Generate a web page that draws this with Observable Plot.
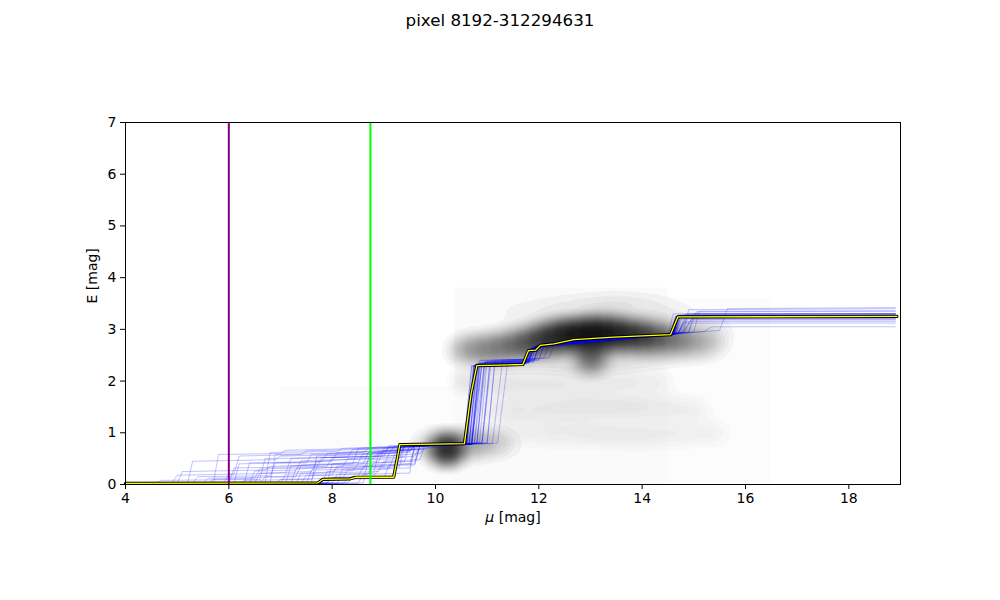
<!DOCTYPE html>
<html>
<head>
<meta charset="utf-8">
<script src="https://cdn.jsdelivr.net/npm/d3@7"></script>
<script src="https://cdn.jsdelivr.net/npm/@observablehq/plot@0.6"></script>
<style>
  body { margin: 0; background: white; font-family: "DejaVu Sans", sans-serif; }
  #title { height: 40px; line-height: 40px; text-align: center; font-size: 16.7px; color: black; width: 1000px; }
</style>
</head>
<body>
<div id="title">pixel 8192-312294631</div>
<div id="chart"></div>
<script>
// ---------- data ----------
const muTicks = [4, 6, 8, 10, 12, 14, 16, 18];
const eTicks = [0, 1, 2, 3, 4, 5, 6, 7];

// reference distances (vertical lines)
const refMu = [6, 8.74];
const refColors = ["#800080", "#00ff00"];

// best-fit reddening profile
const bestMu = [4, 7.72, 7.82, 8.35, 8.45, 9.19, 9.31, 10.0, 10.56, 10.69, 10.8, 11.69, 11.8, 11.94, 12.03, 12.29, 12.68, 13.45, 14.55, 14.69, 18.93];
const bestE  = [0.02, 0.03, 0.1, 0.11, 0.14, 0.14, 0.77, 0.78, 0.79, 1.76, 2.3, 2.32, 2.59, 2.6, 2.69, 2.72, 2.8, 2.85, 2.9, 3.24, 3.25];

// sampled profiles: flat [mu, E, mu, E, ...]
const samplePaths = [
  [4,0.02, 4.9,0.03, 5.0,0.18, 6.1,0.2, 6.2,0.55, 7.4,0.58, 7.5,0.65, 9.5,0.7, 9.6,0.76, 10.6,0.8, 10.8,2.35, 11.8,2.38, 11.9,2.65, 12.1,2.72, 14.6,2.9, 14.7,3.28, 18.9,3.3],
  [4,0.01, 5.7,0.02, 5.8,0.58, 7.0,0.6, 7.1,0.66, 9.4,0.72, 10.7,0.78, 10.85,2.4, 11.7,2.42, 11.8,2.6, 12.2,2.75, 14.7,2.92, 14.85,3.22, 18.9,3.22],
  [4,0.02, 6.5,0.03, 6.6,0.22, 7.6,0.25, 7.7,0.45, 8.7,0.5, 8.8,0.62, 9.5,0.66, 9.6,0.77, 10.9,0.8, 11.05,2.3, 11.9,2.36, 12.0,2.68, 14.5,2.88, 14.6,3.3, 18.9,3.3],
  [4,0.01, 7.2,0.02, 7.3,0.3, 8.2,0.34, 8.3,0.5, 9.0,0.55, 9.1,0.75, 10.55,0.79, 10.75,2.28, 11.7,2.33, 11.8,2.58, 12.0,2.68, 14.6,2.9, 14.7,3.25, 18.9,3.25],
  [4,0.02, 5.3,0.03, 5.4,0.15, 6.8,0.17, 6.9,0.42, 8.0,0.45, 8.1,0.62, 9.7,0.68, 9.8,0.78, 11.0,0.8, 11.15,2.4, 12.0,2.42, 12.1,2.7, 14.8,2.95, 14.95,3.2, 18.9,3.2],
  [4,0.02, 7.7,0.03, 7.8,0.12, 8.5,0.14, 8.6,0.35, 9.6,0.38, 9.7,0.76, 10.65,0.79, 10.8,2.3, 11.75,2.34, 11.85,2.62, 12.05,2.7, 14.55,2.9, 14.65,3.26, 18.9,3.26],
  [4,0.01, 6.0,0.02, 6.1,0.32, 7.9,0.35, 8.0,0.52, 9.2,0.56, 9.3,0.74, 10.7,0.78, 10.9,2.35, 11.85,2.38, 11.95,2.66, 14.7,2.93, 14.8,3.15, 18.9,3.15],
  [4,0.03, 4.6,0.03, 4.7,0.08, 6.6,0.1, 6.7,0.5, 8.3,0.53, 8.4,0.68, 9.4,0.72, 10.8,0.79, 10.95,2.38, 11.8,2.4, 11.9,2.64, 12.15,2.74, 15.0,2.95, 15.1,3.35, 18.9,3.36],
  [4,0.02, 7.0,0.02, 7.1,0.2, 8.9,0.25, 9.0,0.45, 9.7,0.48, 9.8,0.77, 10.6,0.8, 10.75,2.32, 11.7,2.35, 11.8,2.6, 12.0,2.7, 14.6,2.9, 14.7,3.24, 18.9,3.24],
  [4,0.02, 8.0,0.03, 8.1,0.2, 8.8,0.22, 8.9,0.6, 9.5,0.64, 9.6,0.75, 11.1,0.79, 11.3,2.4, 12.2,2.45, 12.3,2.72, 14.9,2.95, 15.0,3.3, 18.9,3.3],
  [4,0.01, 5.5,0.02, 5.6,0.12, 7.3,0.15, 7.4,0.38, 8.5,0.42, 8.6,0.6, 9.3,0.62, 9.4,0.74, 10.7,0.78, 10.85,2.33, 11.8,2.36, 11.9,2.62, 12.1,2.7, 14.65,2.9, 14.75,3.27, 18.9,3.27],
  [4,0.02, 6.3,0.03, 6.4,0.42, 7.8,0.44, 7.9,0.6, 9.6,0.68, 9.7,0.78, 10.55,0.8, 10.7,2.3, 11.7,2.32, 11.8,2.6, 12.0,2.69, 14.6,2.9, 14.7,3.25, 18.9,3.25],
  [4,0.02, 7.5,0.03, 7.6,0.28, 8.6,0.3, 8.7,0.48, 9.3,0.5, 9.4,0.76, 10.75,0.79, 10.95,2.36, 11.8,2.4, 11.9,2.63, 14.6,2.9, 14.75,3.2, 18.9,3.2],
  [4,0.01, 6.9,0.02, 7.0,0.1, 8.2,0.12, 8.3,0.28, 9.1,0.3, 9.2,0.56, 9.7,0.6, 9.8,0.76, 10.9,0.8, 11.05,2.34, 11.9,2.38, 12.0,2.68, 14.7,2.92, 14.85,3.3, 18.9,3.3],
  [4,0.02, 5.0,0.02, 5.1,0.25, 6.7,0.28, 6.8,0.35, 8.4,0.4, 8.5,0.7, 10.6,0.8, 10.78,2.32, 11.72,2.34, 11.82,2.62, 12.05,2.7, 14.55,2.9, 14.65,3.25, 18.9,3.25],
  [4,0.02, 7.9,0.03, 8.0,0.4, 8.9,0.45, 9.0,0.66, 9.8,0.7, 10.7,0.78, 10.88,2.4, 11.8,2.42, 11.9,2.66, 14.8,2.93, 14.95,3.18, 18.9,3.18],
  [4,0.01, 6.2,0.02, 6.3,0.08, 7.6,0.1, 7.7,0.32, 9.0,0.36, 9.1,0.6, 9.5,0.62, 9.6,0.77, 10.65,0.79, 10.82,2.31, 11.75,2.34, 11.85,2.6, 12.1,2.71, 14.6,2.9, 14.7,3.26, 18.9,3.26],
  [4,0.02, 8.3,0.03, 8.4,0.15, 9.2,0.17, 9.3,0.72, 10.8,0.8, 10.98,2.38, 11.9,2.4, 12.0,2.68, 14.9,2.94, 15.05,3.34, 18.9,3.35],
  [4,0.02, 5.9,0.02, 6.0,0.2, 7.1,0.22, 7.2,0.5, 8.9,0.55, 9.0,0.7, 10.6,0.78, 10.76,2.3, 11.7,2.33, 11.8,2.6, 12.0,2.7, 14.6,2.9, 14.7,3.24, 18.9,3.24],
  [4,0.02, 7.4,0.03, 7.5,0.18, 8.7,0.2, 8.8,0.42, 9.6,0.45, 9.7,0.75, 11.2,0.8, 11.4,2.38, 12.1,2.45, 12.2,2.72, 15.5,2.98, 15.65,3.4, 18.9,3.42],
  [4,0.01, 6.8,0.02, 6.9,0.58, 8.6,0.62, 8.7,0.7, 10.7,0.78, 10.85,2.34, 11.78,2.36, 11.88,2.62, 12.1,2.71, 14.62,2.9, 14.72,3.22, 18.9,3.22],
  [4,0.02, 7.8,0.03, 7.9,0.25, 8.4,0.27, 8.5,0.4, 9.4,0.44, 9.5,0.76, 10.6,0.79, 10.75,2.3, 11.7,2.33, 11.8,2.59, 12.0,2.69, 14.6,2.9, 14.7,3.27, 18.9,3.27],
  [4,0.02, 5.2,0.02, 5.3,0.45, 6.9,0.48, 7.0,0.55, 9.1,0.6, 9.2,0.74, 11.0,0.8, 11.15,2.36, 12.0,2.4, 12.1,2.7, 14.7,2.92, 14.8,3.12, 18.9,3.12],
  [4,0.01, 8.1,0.02, 8.2,0.3, 9.3,0.34, 9.4,0.74, 10.7,0.78, 10.9,2.32, 11.8,2.35, 11.9,2.62, 12.1,2.7, 14.6,2.9, 14.7,3.25, 18.9,3.25],
  [4,0.02, 6.6,0.02, 6.7,0.15, 8.0,0.18, 8.1,0.36, 9.5,0.4, 9.6,0.74, 10.55,0.78, 10.7,2.28, 11.7,2.32, 11.8,2.58, 12.0,2.68, 14.55,2.89, 14.65,3.24, 18.9,3.24],
  [4,0.02, 7.6,0.03, 7.7,0.55, 9.2,0.6, 9.3,0.72, 10.8,0.79, 10.95,2.35, 11.85,2.38, 11.95,2.66, 14.65,2.91, 14.8,3.28, 18.9,3.28],
  [4,0.01, 8.5,0.02, 8.6,0.2, 9.5,0.22, 9.6,0.76, 10.65,0.79, 10.8,2.33, 11.75,2.35, 11.85,2.61, 12.05,2.7, 14.6,2.9, 14.7,3.26, 18.9,3.26],
  [4,0.02, 6.4,0.02, 6.5,0.26, 7.3,0.28, 7.4,0.46, 8.8,0.5, 8.9,0.64, 9.8,0.68, 9.9,0.78, 10.9,0.8, 11.08,2.4, 11.95,2.43, 12.05,2.7, 15.2,2.96, 15.35,3.05, 18.9,3.05],
  [4,0.02, 7.1,0.02, 7.2,0.36, 8.6,0.4, 8.7,0.62, 9.5,0.66, 9.6,0.75, 10.6,0.78, 10.74,2.29, 11.7,2.32, 11.8,2.6, 12.02,2.69, 14.58,2.9, 14.68,3.25, 18.9,3.25],
  [4,0.02, 5.6,0.02, 5.7,0.1, 6.5,0.12, 6.6,0.3, 7.7,0.33, 7.8,0.52, 9.3,0.56, 9.4,0.74, 10.75,0.79, 10.9,2.36, 11.82,2.38, 11.92,2.64, 14.75,2.92, 14.9,3.3, 18.9,3.3],
  [4,0.02, 8.2,0.02, 8.3,0.1, 9.0,0.12, 9.1,0.38, 9.6,0.4, 9.7,0.77, 10.7,0.79, 10.86,2.32, 11.8,2.35, 11.9,2.63, 12.1,2.71, 14.62,2.9, 14.72,3.23, 18.9,3.23],
  [4,0.02, 6.7,0.02, 6.8,0.62, 8.1,0.64, 8.2,0.7, 10.65,0.78, 10.8,2.31, 11.72,2.34, 11.82,2.6, 12.0,2.69, 14.6,2.9, 14.7,3.26, 18.9,3.26],
  [4,0.01, 7.3,0.02, 7.4,0.22, 8.0,0.24, 8.1,0.32, 9.2,0.36, 9.3,0.52, 9.6,0.55, 9.7,0.76, 10.58,0.79, 10.73,2.3, 11.7,2.33, 11.8,2.6, 12.0,2.69, 14.6,2.9, 14.7,3.25, 18.9,3.25],
  [4,0.02, 6.1,0.02, 6.2,0.4, 7.5,0.42, 7.6,0.58, 9.0,0.62, 9.1,0.72, 10.85,0.8, 11.0,2.37, 11.9,2.4, 12.0,2.67, 14.8,2.94, 14.9,3.38, 18.9,3.4],
  [4,0.02, 7.9,0.02, 8.0,0.14, 8.8,0.16, 8.9,0.3, 9.5,0.32, 9.6,0.75, 10.62,0.79, 10.77,2.31, 11.74,2.34, 11.84,2.6, 12.05,2.7, 14.6,2.9, 14.7,3.26, 18.9,3.26],
  [4,0.02, 8.6,0.03, 8.7,0.5, 9.4,0.54, 9.5,0.73, 10.68,0.78, 10.83,2.34, 11.78,2.36, 11.88,2.62, 12.08,2.7, 14.63,2.9, 14.73,3.24, 18.9,3.24]
];

// main density features of the background (mu, E, weight)
const densMu = [
  // main ridge
  10.5, 10.75, 11.0, 11.25, 11.5, 11.75, 12.0, 12.25, 12.5, 12.75, 13.0, 13.25, 13.5, 13.75, 14.0, 14.25, 14.5, 14.75, 15.0, 15.25, 15.5,
  // lower shoulder + secondary clump
  11.0, 11.3, 11.6, 11.9, 12.2, 12.5, 12.85, 13.0, 13.15, 13.5, 13.8, 14.1, 14.4, 14.7, 15.0, 15.3,
  // upper haze
  11.4, 11.7, 12.0, 12.3, 12.6, 12.9, 13.2, 13.5, 13.8, 14.1, 14.4, 14.7, 15.0, 15.3, 15.6,
  // clump near E 0.7 and its tail
  9.75, 10.0, 10.22, 10.45, 10.7, 10.95, 11.2, 11.45
];
const densE = [
  2.6, 2.62, 2.64, 2.67, 2.71, 2.75, 2.8, 2.85, 2.89, 2.91, 2.92, 2.92, 2.92, 2.9, 2.88, 2.86, 2.84, 2.82, 2.8, 2.78, 2.78,
  2.38, 2.4, 2.42, 2.44, 2.45, 2.46, 2.46, 2.45, 2.46, 2.48, 2.5, 2.52, 2.55, 2.58, 2.6, 2.62,
  3.3, 3.32, 3.35, 3.38, 3.4, 3.42, 3.44, 3.45, 3.45, 3.42, 3.4, 3.3, 3.2, 3.1, 3.05,
  0.74, 0.72, 0.68, 0.74, 0.78, 0.8, 0.8, 0.79
];
const densW = [
  0.3, 0.35, 0.4, 0.45, 0.55, 0.7, 0.9, 1.1, 1.3, 1.45, 1.5, 1.45, 1.3, 1.1, 0.9, 0.72, 0.55, 0.4, 0.28, 0.18, 0.1,
  0.08, 0.09, 0.1, 0.12, 0.14, 0.18, 0.35, 0.55, 0.35, 0.18, 0.15, 0.14, 0.12, 0.11, 0.09, 0.06,
  0.04, 0.05, 0.06, 0.07, 0.08, 0.09, 0.1, 0.1, 0.09, 0.08, 0.07, 0.06, 0.05, 0.04, 0.03,
  0.12, 0.3, 1.75, 0.35, 0.3, 0.25, 0.15, 0.07
];

// faint horizontal streaks of the background (mu, E, weight)
const faintMu = [
  // streak near E 1.95
  10.5, 10.8, 11.1, 11.4, 11.7, 12.0, 12.3, 12.6, 12.9, 13.2, 13.5, 13.8, 14.1, 14.4,
  // streak near E 1.45
  10.9, 11.2, 11.5, 11.8, 12.1, 12.4, 12.7, 13.0, 13.3, 13.6, 13.9, 14.2, 14.5, 14.8, 15.1,
  // streak near E 1.0
  11.3, 11.6, 11.9, 12.2, 12.5, 12.8, 13.1, 13.4, 13.7, 14.0, 14.3, 14.6, 14.9, 15.2, 15.5
];
const faintE = [
  2.0, 1.98, 1.96, 1.95, 1.95, 1.95, 1.96, 1.97, 1.98, 1.99, 2.0, 2.0, 2.0, 2.0,
  1.45, 1.45, 1.45, 1.46, 1.47, 1.48, 1.5, 1.5, 1.5, 1.5, 1.5, 1.49, 1.48, 1.46, 1.45,
  1.0, 1.0, 1.0, 1.0, 1.0, 1.0, 0.98, 0.97, 0.96, 0.96, 0.96, 0.97, 0.98, 0.99, 1.0
];
const faintW = [
  1.0, 1.0, 1.0, 1.0, 0.9, 0.9, 0.9, 0.8, 0.8, 0.8, 0.7, 0.7, 0.6, 0.5,
  0.6, 0.7, 0.8, 0.8, 0.9, 0.9, 1.0, 1.0, 1.0, 1.0, 0.9, 0.9, 0.8, 0.7, 0.6,
  0.5, 0.6, 0.6, 0.7, 0.7, 0.8, 0.8, 0.8, 0.8, 0.8, 0.7, 0.7, 0.6, 0.6, 0.5
];

// faint background patches
const patchMu1 = [7.0, 10.37, 14.5];
const patchMu2 = [10.37, 14.5, 16.5];
const patchE1 = [0, 0, 0];
const patchE2 = [1.9, 3.8, 3.6];
const patchOp = [0.01, 0.02, 0.01];

// ---------- build tables ----------
const best = bestMu.map((m, i) => ({mu: m, E: bestE[i]}));
const samples = samplePaths.flatMap((p, s) => {
  const rows = [];
  for (let i = 0; i < p.length; i += 2) rows.push({s, mu: p[i], E: p[i + 1]});
  return rows;
});
const dens = densMu.map((m, i) => ({mu: m, E: densE[i], w: densW[i]}));
const faint = faintMu.map((m, i) => ({mu: m, E: faintE[i], w: faintW[i]}));
const patches = patchMu1.map((m, i) => ({x1: m, x2: patchMu2[i], y1: patchE1[i], y2: patchE2[i], op: patchOp[i]}));

const chart = Plot.plot({
  width: 1000,
  height: 560,
  marginLeft: 125,
  marginRight: 100,
  marginTop: 82,
  marginBottom: 116,
  style: {fontFamily: "DejaVu Sans", fontSize: "14px", color: "black", background: "white"},
  x: {domain: [4, 19]},
  y: {domain: [0, 7]},
  marks: [
    Plot.rect(patches, {x1: "x1", x2: "x2", y1: "y1", y2: "y2", fill: "black", fillOpacity: "op"}),
    Plot.density(faint, {x: "mu", y: "E", weight: "w", bandwidth: 7, thresholds: 6, fill: "black", fillOpacity: 0.014, stroke: "none", clip: true}),
    Plot.density(dens, {x: "mu", y: "E", weight: "w", bandwidth: 8, thresholds: 60, fill: "black", fillOpacity: 0.034, stroke: "none", clip: true}),
    Plot.line(samples, {x: "mu", y: "E", z: "s", stroke: "#0000ff", strokeOpacity: 0.3, strokeWidth: 0.8}),
    Plot.line(best, {x: "mu", y: "E", stroke: "black", strokeWidth: 3.2}),
    Plot.line(best, {x: "mu", y: "E", stroke: "#ffff00", strokeWidth: 1.3}),
    Plot.ruleX([refMu[0]], {stroke: refColors[0], strokeWidth: 2}),
    Plot.ruleX([refMu[1]], {stroke: refColors[1], strokeWidth: 2}),
    Plot.frame({stroke: "black", strokeWidth: 1}),
    Plot.axisX({ticks: muTicks, tickSize: 5, tickPadding: 4, label: null, tickFormat: d => String(d)}),
    Plot.axisY({ticks: eTicks, tickSize: 5, tickPadding: 4, label: null, tickFormat: d => String(d)}),
    Plot.text(["E [mag]"], {frameAnchor: "left", dx: -33, rotate: -90, text: d => d, fontSize: 14}),
    Plot.text(["μ [mag]"], {frameAnchor: "bottom", dy: 37, text: d => d, fontSize: 14})
  ]
});
chart.querySelectorAll("text").forEach(t => {
  if (t.textContent === "μ [mag]") {
    t.innerHTML = '<tspan font-style="italic">μ</tspan> [mag]';
  }
});
document.getElementById("chart").appendChild(chart);
</script>
</body>
</html>
